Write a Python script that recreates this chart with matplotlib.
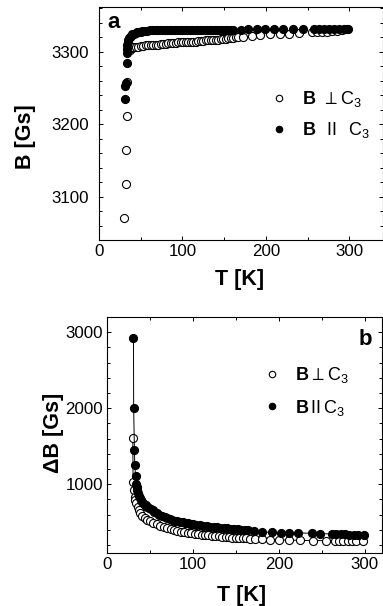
import numpy as np
import matplotlib
matplotlib.use("Agg")
import matplotlib.pyplot as plt
from matplotlib.ticker import MultipleLocator

plt.rcParams['font.family'] = ['Liberation Sans', 'DejaVu Sans']
plt.rcParams['mathtext.fontset'] = 'custom'
plt.rcParams['mathtext.rm'] = 'Liberation Sans'
plt.rcParams['mathtext.bf'] = 'Liberation Sans:bold'
plt.rcParams['mathtext.fallback'] = 'stixsans'

# ---- panel a: resonance field B vs T ----
T_perp_a = [30.3, 32.0, 32.7, 33.4, 34.1,
            37, 39, 41, 44, 47, 50, 53, 56, 59, 62,
            65, 68, 71, 74, 77, 80, 83, 86, 89, 92,
            95, 98, 101, 104, 107, 110, 113, 116, 119, 122,
            125, 128, 131, 134, 137, 140, 143, 146, 149, 152,
            155, 158, 161, 164, 167,
            172, 183, 193, 205, 217, 228, 240, 255, 261, 267, 273, 279, 285, 291, 297]
B_perp_a = [3071, 3117, 3164, 3211, 3258,
            3303, 3305, 3306, 3307, 3307, 3308, 3308, 3309, 3309, 3309,
            3310, 3310, 3310, 3311, 3311, 3311, 3312, 3312, 3312, 3312,
            3313, 3313, 3313, 3313, 3314, 3314, 3314, 3314, 3315, 3315,
            3315, 3316, 3316, 3316, 3317, 3317, 3317, 3318, 3318, 3318,
            3319, 3319, 3319, 3320, 3320,
            3321, 3322, 3323, 3324, 3324, 3325, 3326, 3327, 3327, 3328, 3328, 3329, 3329, 3330, 3331]

T_par_a = [31.5, 31.5, 32.0, 33.1, 33.1, 33.6, 34.0, 34.5, 35.1, 36, 37, 38, 40, 42, 44,
           46, 48, 50, 52, 55, 58, 61, 64, 67, 70, 73, 76, 79, 82, 85,
           88, 91, 94, 97, 100, 103, 106, 109, 112, 115, 118, 121, 124, 127, 130,
           133, 136, 139, 142, 145, 148, 151, 154, 157, 160,
           170, 179, 189, 199, 210, 220, 233, 245, 258, 264, 270, 276, 282, 288, 294, 299]
B_par_a = [3235, 3253, 3257, 3285, 3299, 3304, 3309, 3313, 3316, 3319, 3321, 3322, 3324, 3325, 3326,
           3327, 3327.5, 3328, 3328.5, 3329, 3329, 3329.5, 3329.5, 3330, 3330, 3330, 3330, 3330, 3330, 3330,
           3330, 3330, 3330, 3330, 3330, 3330, 3330, 3330, 3330, 3330, 3330, 3330, 3330, 3330, 3330.5,
           3330.5, 3330.5, 3330.5, 3330.5, 3330.5, 3330.5, 3330.5, 3330.5, 3330.5, 3330.5,
           3330.5, 3331, 3331, 3331, 3331, 3331, 3331.5, 3331.5, 3332, 3332, 3332, 3332, 3332, 3332, 3332, 3332]

# ---- panel b: linewidth dB vs T ----
T_perp_b = [30.0, 30.3, 30.9, 32.0, 33.0, 34.0, 35.5, 37, 38.6, 41,
            44.4, 47, 50.3, 54, 58, 62, 66, 70, 74, 78,
            82, 86, 90, 94, 98, 102, 106, 110, 114, 118,
            122, 126, 130, 134, 138, 142, 146, 150, 154, 158,
            162, 166,
            172, 180, 190, 200, 212, 225, 240, 255, 265, 270, 275, 280, 285, 290, 298]
dB_perp_b = [1613, 1034, 925, 837, 790, 750, 700, 660, 618, 585,
             553, 535, 517, 495, 474, 455, 437, 421, 407, 395,
             386, 377, 369, 362, 355, 349, 343, 337, 332, 327,
             322, 317, 313, 309, 305, 301, 298, 295, 292, 289,
             287, 285,
             280, 276, 272, 268, 265, 262, 260, 257, 256, 255, 254, 254, 253, 252, 252]

T_par_b = [30.8, 31.0, 31.9, 32.3, 33.2, 34, 34.6, 35.2, 36, 37,
           38, 39.5, 41, 43, 45, 47, 49, 51, 53, 55,
           58, 61, 64, 67, 70, 73, 76, 79, 82, 85,
           88, 91, 94, 97, 100, 104, 108, 112, 116, 120,
           124, 128, 132, 136, 140, 144, 148, 152, 156, 160,
           164,
           171, 180, 192, 202, 212, 222, 238, 248, 262, 267, 272, 277, 282, 287, 292, 299]
dB_par_b = [2921, 2000, 1451, 1254, 1113, 1000, 960, 920, 880, 850,
            825, 795, 770, 745, 725, 705, 690, 672, 655, 640,
            618, 600, 583, 568, 553, 540, 531, 522, 513, 505,
            498, 492, 486, 480, 474, 467, 461, 455, 449, 444,
            439, 434, 429, 424, 419, 414, 410, 406, 402, 398,
            392,
            380, 372, 368, 364, 362, 360, 355, 352, 345, 343, 342, 340, 338, 336, 334, 330]

lab_perp_a = r"$\mathbf{B}\ \perp\mathrm{C}_3$"
lab_par_a = r"$\mathbf{B}\ \ \mathrm{II}\ \ \mathrm{C}_3$"
lab_perp_b = r"$\mathbf{B}\perp\mathrm{C}_3$"
lab_par_b = r"$\mathbf{B}\,\mathrm{II}\,\mathrm{C}_3$"

fig = plt.figure(figsize=(3.83, 6.06), dpi=100)
ax1 = fig.add_axes([0.2585, 0.6040, 0.7407, 0.3845])
ax2 = fig.add_axes([0.2794, 0.0875, 0.7180, 0.3894])

ms = 5.8
ax1.plot(T_perp_a, B_perp_a, 'o', ms=ms, mfc='white', mec='black', mew=0.8, label=lab_perp_a)
ax1.plot(T_par_a, B_par_a, 'o', ms=ms, mfc='black', mec='black', mew=0.8, label=lab_par_a)

ax2.plot(T_perp_b, dB_perp_b, '-o', color='black', lw=0.7, ms=ms, mfc='white', mec='black', mew=0.8,
         label=lab_perp_b)
ax2.plot(T_par_b, dB_par_b, '-o', color='black', lw=0.7, ms=ms, mfc='black', mec='black', mew=0.8,
         label=lab_par_b)

ax1.set_xlim(0, 340)
ax1.set_ylim(3040, 3362)
ax2.set_xlim(0, 320)
ax2.set_ylim(96, 3200)

ax1.xaxis.set_major_locator(MultipleLocator(100))
ax1.xaxis.set_minor_locator(MultipleLocator(50))
ax1.yaxis.set_major_locator(MultipleLocator(100))
ax1.yaxis.set_minor_locator(MultipleLocator(20))
ax2.xaxis.set_major_locator(MultipleLocator(100))
ax2.xaxis.set_minor_locator(MultipleLocator(50))
ax2.yaxis.set_major_locator(MultipleLocator(1000))
ax2.yaxis.set_minor_locator(MultipleLocator(200))

for ax, ypad in ((ax1, 7.0), (ax2, 3.0)):
    ax.tick_params(which='both', direction='in', top=True, right=True, labelsize=12.2, width=0.7)
    ax.tick_params(which='major', length=3.2)
    ax.tick_params(which='minor', length=2.0)
    ax.tick_params(axis='x', pad=3.0)
    ax.tick_params(axis='y', pad=ypad)
    for s in ax.spines.values():
        s.set_linewidth(0.8)

ax1.set_xlabel('T [K]', fontsize=15.5, fontweight='bold')
ax1.set_ylabel('B [Gs]', fontsize=15.5, fontweight='bold')
ax1.xaxis.set_label_coords(0.494, -0.125)
ax1.yaxis.set_label_coords(-0.222, 0.442)
ax2.set_xlabel('T [K]', fontsize=15.5, fontweight='bold')
ax2.set_ylabel('\u0394B [Gs]', fontsize=15.5, fontweight='bold')
ax2.xaxis.set_label_coords(0.49, -0.135)
ax2.yaxis.set_label_coords(-0.156, 0.51)

ax1.text(0.028, 0.91, 'a', transform=ax1.transAxes, fontsize=16, fontweight='bold', va='baseline')
ax2.text(0.964, 0.881, 'b', transform=ax2.transAxes, fontsize=16, fontweight='bold',
         va='baseline', ha='right')

ax1.legend(loc='upper left', bbox_to_anchor=(0.572, 0.685), frameon=False, borderpad=0,
           handlelength=1.0, handletextpad=0.75, labelspacing=0.6, markerscale=0.8,
           prop={'size': 13})
ax2.legend(loc='upper left', bbox_to_anchor=(0.535, 0.835), frameon=False, borderpad=0,
           handlelength=1.0, handletextpad=0.75, labelspacing=0.7, markerscale=0.8,
           prop={'size': 13})
# legend handles in b carry the line; hide it
for h in ax2.get_legend().get_lines():
    h.set_linestyle('none')

fig.savefig('out.png', dpi=100)
